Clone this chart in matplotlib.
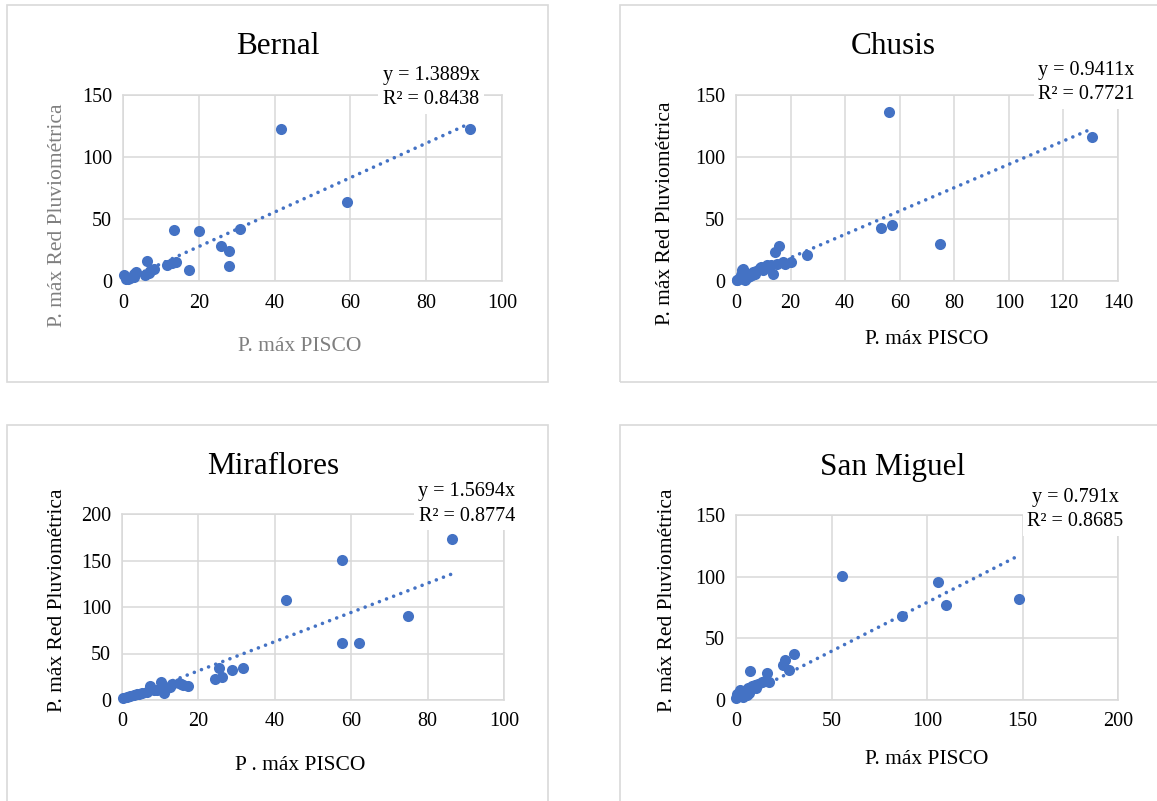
import matplotlib.pyplot as plt
from matplotlib.patches import Rectangle

bernal_x = [41.7, 91.5, 59.0, 13.5, 20.1, 30.8, 25.9, 28.0, 27.9, 17.4, 6.4, 11.6, 12.9, 14.1,
            8.1, 6.8, 3.4, 2.8, 0.2, 0.9, 1.9, 7.2, 5.9, 1.2, 2.4, 3.0]
bernal_y = [122.8, 122.8, 64.0, 41.4, 40.3, 41.9, 28.0, 23.9, 11.8, 9.1, 16.1, 12.9, 14.2, 15.6,
            9.7, 6.2, 7.3, 3.5, 4.8, 1.3, 2.2, 8.3, 4.8, 2.0, 3.0, 5.5]

chusis_x = [56.1, 130.5, 53.0, 57.1, 74.8, 26.1, 20.0, 15.9, 14.3, 13.4, 17.3, 11.2, 8.8, 6.3,
            3.9, 2.1, 1.5, 0.2, 3.3, 0.5, 1.0, 2.5, 3.0, 4.5, 5.0, 6.0, 7.0, 7.5, 9.0, 10.0,
            12.0, 13.0, 15.0, 18.0, 1.8, 2.8]
chusis_y = [136.0, 115.9, 42.7, 44.9, 30.1, 21.0, 15.1, 28.5, 23.1, 5.6, 15.6, 12.9, 10.2, 7.5,
            4.8, 8.9, 2.2, 0.8, 0.8, 1.0, 2.0, 9.5, 7.0, 3.0, 4.0, 5.0, 6.0, 8.0, 11.0, 9.0,
            11.0, 13.0, 14.0, 14.0, 5.0, 3.5]

miraflores_x = [86.5, 57.7, 43.0, 74.9, 57.7, 62.0, 25.3, 31.6, 28.8, 24.4, 26.2, 17.2, 10.3,
                7.4, 14.8, 13.1, 10.9, 9.2, 5.2, 3.1, 1.3, 0.3, 3.9, 6.5, 8.3, 11.8, 15.4,
                2.2, 4.5, 12.5, 16.0]
miraflores_y = [173.1, 150.8, 107.0, 90.8, 61.8, 61.0, 34.8, 34.4, 32.7, 22.3, 24.4, 15.1, 19.4,
                15.4, 18.7, 17.2, 7.2, 10.8, 7.2, 5.4, 3.6, 1.8, 6.5, 8.3, 10.4, 12.9, 17.6,
                4.5, 6.0, 14.5, 16.5]

sanmiguel_x = [55.6, 105.6, 109.9, 148.4, 87.1, 30.3, 25.6, 24.4, 27.9, 16.4, 7.3, 17.4, 1.2,
               3.0, 4.7, 6.4, 8.2, 9.9, 11.7, 13.4, 15.2, 5.6, 3.8, 0.0, 2.1, 0.6, 7.0, 10.5]
sanmiguel_y = [100.3, 95.4, 77.1, 81.7, 67.9, 36.9, 32.6, 28.6, 24.5, 21.8, 23.2, 14.6, 3.0,
               5.7, 7.0, 9.7, 11.1, 12.4, 13.2, 14.3, 15.1, 4.3, 2.4, 1.6, 8.4, 4.5, 6.0, 10.0]

titles = ["Bernal", "Chusis", "Miraflores", "San Miguel"]
slopes = [1.3889, 0.9411, 1.5694, 0.791]
ecuaciones = ["y = 1.3889x", "y = 0.9411x", "y = 1.5694x", "y = 0.791x"]
r2 = ["R² = 0.8438", "R² = 0.7721", "R² = 0.8774", "R² = 0.8685"]
xlabels = ["P. máx PISCO", "P. máx PISCO", "P . máx PISCO", "P. máx PISCO"]
ylabel = "P. máx Red Pluviométrica"
xticks = [[0, 20, 40, 60, 80, 100], [0, 20, 40, 60, 80, 100, 120, 140],
          [0, 20, 40, 60, 80, 100], [0, 50, 100, 150, 200]]
yticks = [[0, 50, 100, 150], [0, 50, 100, 150], [0, 50, 100, 150, 200], [0, 50, 100, 150]]

W, H = 1157, 801
azul = "#4472C4"
gris = "#d9d9d9"
plt.rcParams['font.family'] = ['Liberation Serif', 'DejaVu Serif']


def fx(px):
    return px / W


def fy(py):
    return 1 - py / H


def panel(fig, i, xs, ys, ax_px, box_px, title_px, eq_px, xl_px, yl_px, label_color):
    # cuadro del grafico
    bx0, by0, bx1, by1 = box_px
    fig.patches.append(Rectangle((fx(bx0), fy(by1)), fx(bx1 - bx0), (by1 - by0) / H,
                                 transform=fig.transFigure, fill=False, edgecolor=gris, lw=1.2))
    x0, y0, x1, y1 = ax_px
    ax = fig.add_axes([fx(x0), fy(y1), fx(x1 - x0), (y1 - y0) / H])
    ax.set_xlim(xticks[i][0], xticks[i][-1])
    ax.set_ylim(yticks[i][0], yticks[i][-1])
    ax.set_xticks(xticks[i])
    ax.set_yticks(yticks[i])
    ax.tick_params(length=0, labelsize=14.5, pad=8)
    ax.tick_params(axis='x', pad=9)
    ax.grid(True, color=gris, lw=1.1)
    ax.set_axisbelow(True)
    for s in ax.spines.values():
        s.set_color(gris)
        s.set_linewidth(1.1)
    ax.scatter(xs, ys, s=64, color=azul, zorder=3, clip_on=False, linewidths=0)
    xmin, xmax = min(xs), max(xs)
    ax.plot([xmin, xmax], [slopes[i] * xmin, slopes[i] * xmax], color=azul, lw=2.6,
            linestyle=(0, (0.01, 2.1)), dash_capstyle='round', zorder=4)

    fig.text(fx(title_px[0]), fy(title_px[1]), titles[i], fontsize=22.5, ha='center', va='center')
    ex, ey1, ey2 = eq_px
    fig.text(fx(ex), fy((ey1 + ey2) / 2), ecuaciones[i] + "\n" + r2[i], fontsize=14.5,
             ha='center', va='center', linespacing=1.4,
             bbox=dict(facecolor='white', edgecolor='none', pad=3))
    fig.text(fx(xl_px[0]), fy(xl_px[1]), xlabels[i], fontsize=15.5, ha='center', va='center',
             color=label_color)
    fig.text(fx(yl_px[0]), fy(yl_px[1]), ylabel, fontsize=15.5, ha='center', va='center',
             rotation=90, color=label_color)
    return ax


fig = plt.figure(figsize=(W / 100, H / 100), dpi=100)

panel(fig, 0, bernal_x, bernal_y, (123, 95, 502, 281), (7, 5, 548, 382),
      (278, 46), (431, 76, 99), (300, 347), (58, 215), "#7f7f7f")
panel(fig, 1, chusis_x, chusis_y, (736, 95, 1118, 281), (620, 5, 1165, 382),
      (893, 46), (1086, 71, 94), (927, 340), (665, 213), "black")
panel(fig, 2, miraflores_x, miraflores_y, (122, 514, 504, 700), (7, 425, 548, 810),
      (273, 467), (467, 491, 517), (300, 765), (57, 600), "black")
panel(fig, 3, sanmiguel_x, sanmiguel_y, (736, 515, 1118, 700), (620, 425, 1165, 810),
      (893, 467), (1075, 497, 522), (927, 759), (668, 600), "black")

plt.savefig("out.png", dpi=100)
